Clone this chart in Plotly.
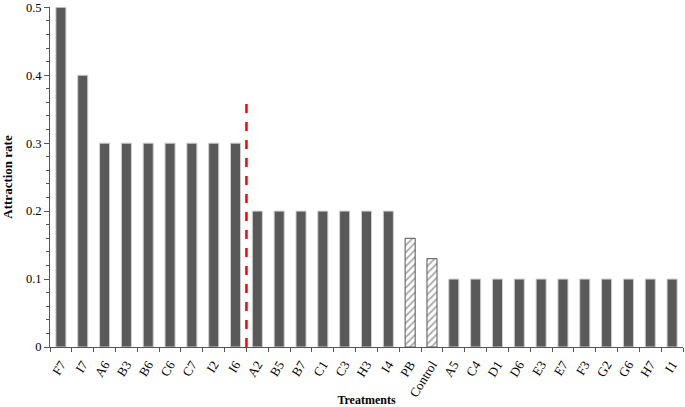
import plotly.graph_objects as go

categories = ["F7", "I7", "A6", "B3", "B6", "C6", "C7", "I2", "I6",
              "A2", "B5", "B7", "C1", "C3", "H3", "I4", "PB", "Control",
              "A5", "C4", "D1", "D6", "E3", "E7", "F3", "G2", "G6", "H7", "I1"]
values = [0.5, 0.4, 0.3, 0.3, 0.3, 0.3, 0.3, 0.3, 0.3,
          0.2, 0.2, 0.2, 0.2, 0.2, 0.2, 0.2, 0.16, 0.13,
          0.1, 0.1, 0.1, 0.1, 0.1, 0.1, 0.1, 0.1, 0.1, 0.1, 0.1]
hatched = ["PB", "Control"]
divider_after = "I6"
divider_top = 0.37
y_ticks = [0, 0.1, 0.2, 0.3, 0.4, 0.5]
y_ticklabels = ["0", "0.1", "0.2", "0.3", "0.4", "0.5"]

solid_x = [c for c in categories if c not in hatched]
solid_y = [v for c, v in zip(categories, values) if c not in hatched]
hatch_x = [c for c in categories if c in hatched]
hatch_y = [v for c, v in zip(categories, values) if c in hatched]

fig = go.Figure()
fig.add_trace(go.Bar(x=solid_x, y=solid_y, marker=dict(color="#595959", line=dict(color="#cfcfcf", width=1)),
                     width=0.46, showlegend=False))
fig.add_trace(go.Bar(x=hatch_x, y=hatch_y,
                     marker=dict(color="white", line=dict(color="#555555", width=1),
                                 pattern=dict(shape="/", fgcolor="#555555", bgcolor="white", size=5, solidity=0.35)),
                     width=0.46, showlegend=False))

div_idx = categories.index(divider_after) + 0.5
fig.add_shape(type="line", xref="x", yref="y", x0=div_idx, x1=div_idx, y0=0, y1=divider_top,
              line=dict(color="#ff0000", width=2.5, dash="dash"))

font = dict(family="Liberation Serif, Times New Roman, serif", color="black", size=12)
fig.update_layout(
    width=685, height=407, margin=dict(l=50, r=2, t=7, b=60, autoexpand=False),
    plot_bgcolor="white", paper_bgcolor="white", font=font, bargap=0.5,
)
fig.update_xaxes(categoryorder="array", categoryarray=categories, range=[-0.5, 28.5], automargin=False,
                 showline=True, linecolor="#555555", linewidth=1, ticks="outside", tickson="boundaries",
                 ticklen=4, tickcolor="#555555", tickangle=-58, tickfont=dict(size=13), ticklabelstandoff=4,
                 title=dict(text="<b>Treatments</b>", font=dict(size=12), standoff=4), showgrid=False)
fig.update_yaxes(range=[0, 0.5004], tickvals=y_ticks, ticktext=y_ticklabels, ticklabeloverflow="allow",
                 showline=True, linecolor="#555555", linewidth=1, tickfont=dict(size=12.5),
                 automargin=False,
                 ticks="outside", ticklen=5, tickcolor="#555555", showgrid=False, zeroline=False,
                 minor=dict(dtick=0.02, ticks="outside", ticklen=3, tickcolor="#555555"),
                 title=dict(text="<b>Attraction rate</b>", font=dict(size=13), standoff=10))

fig.write_html("out.html", config={"displayModeBar": False},
               post_script="document.body.style.margin='0';document.body.style.padding='0';")
